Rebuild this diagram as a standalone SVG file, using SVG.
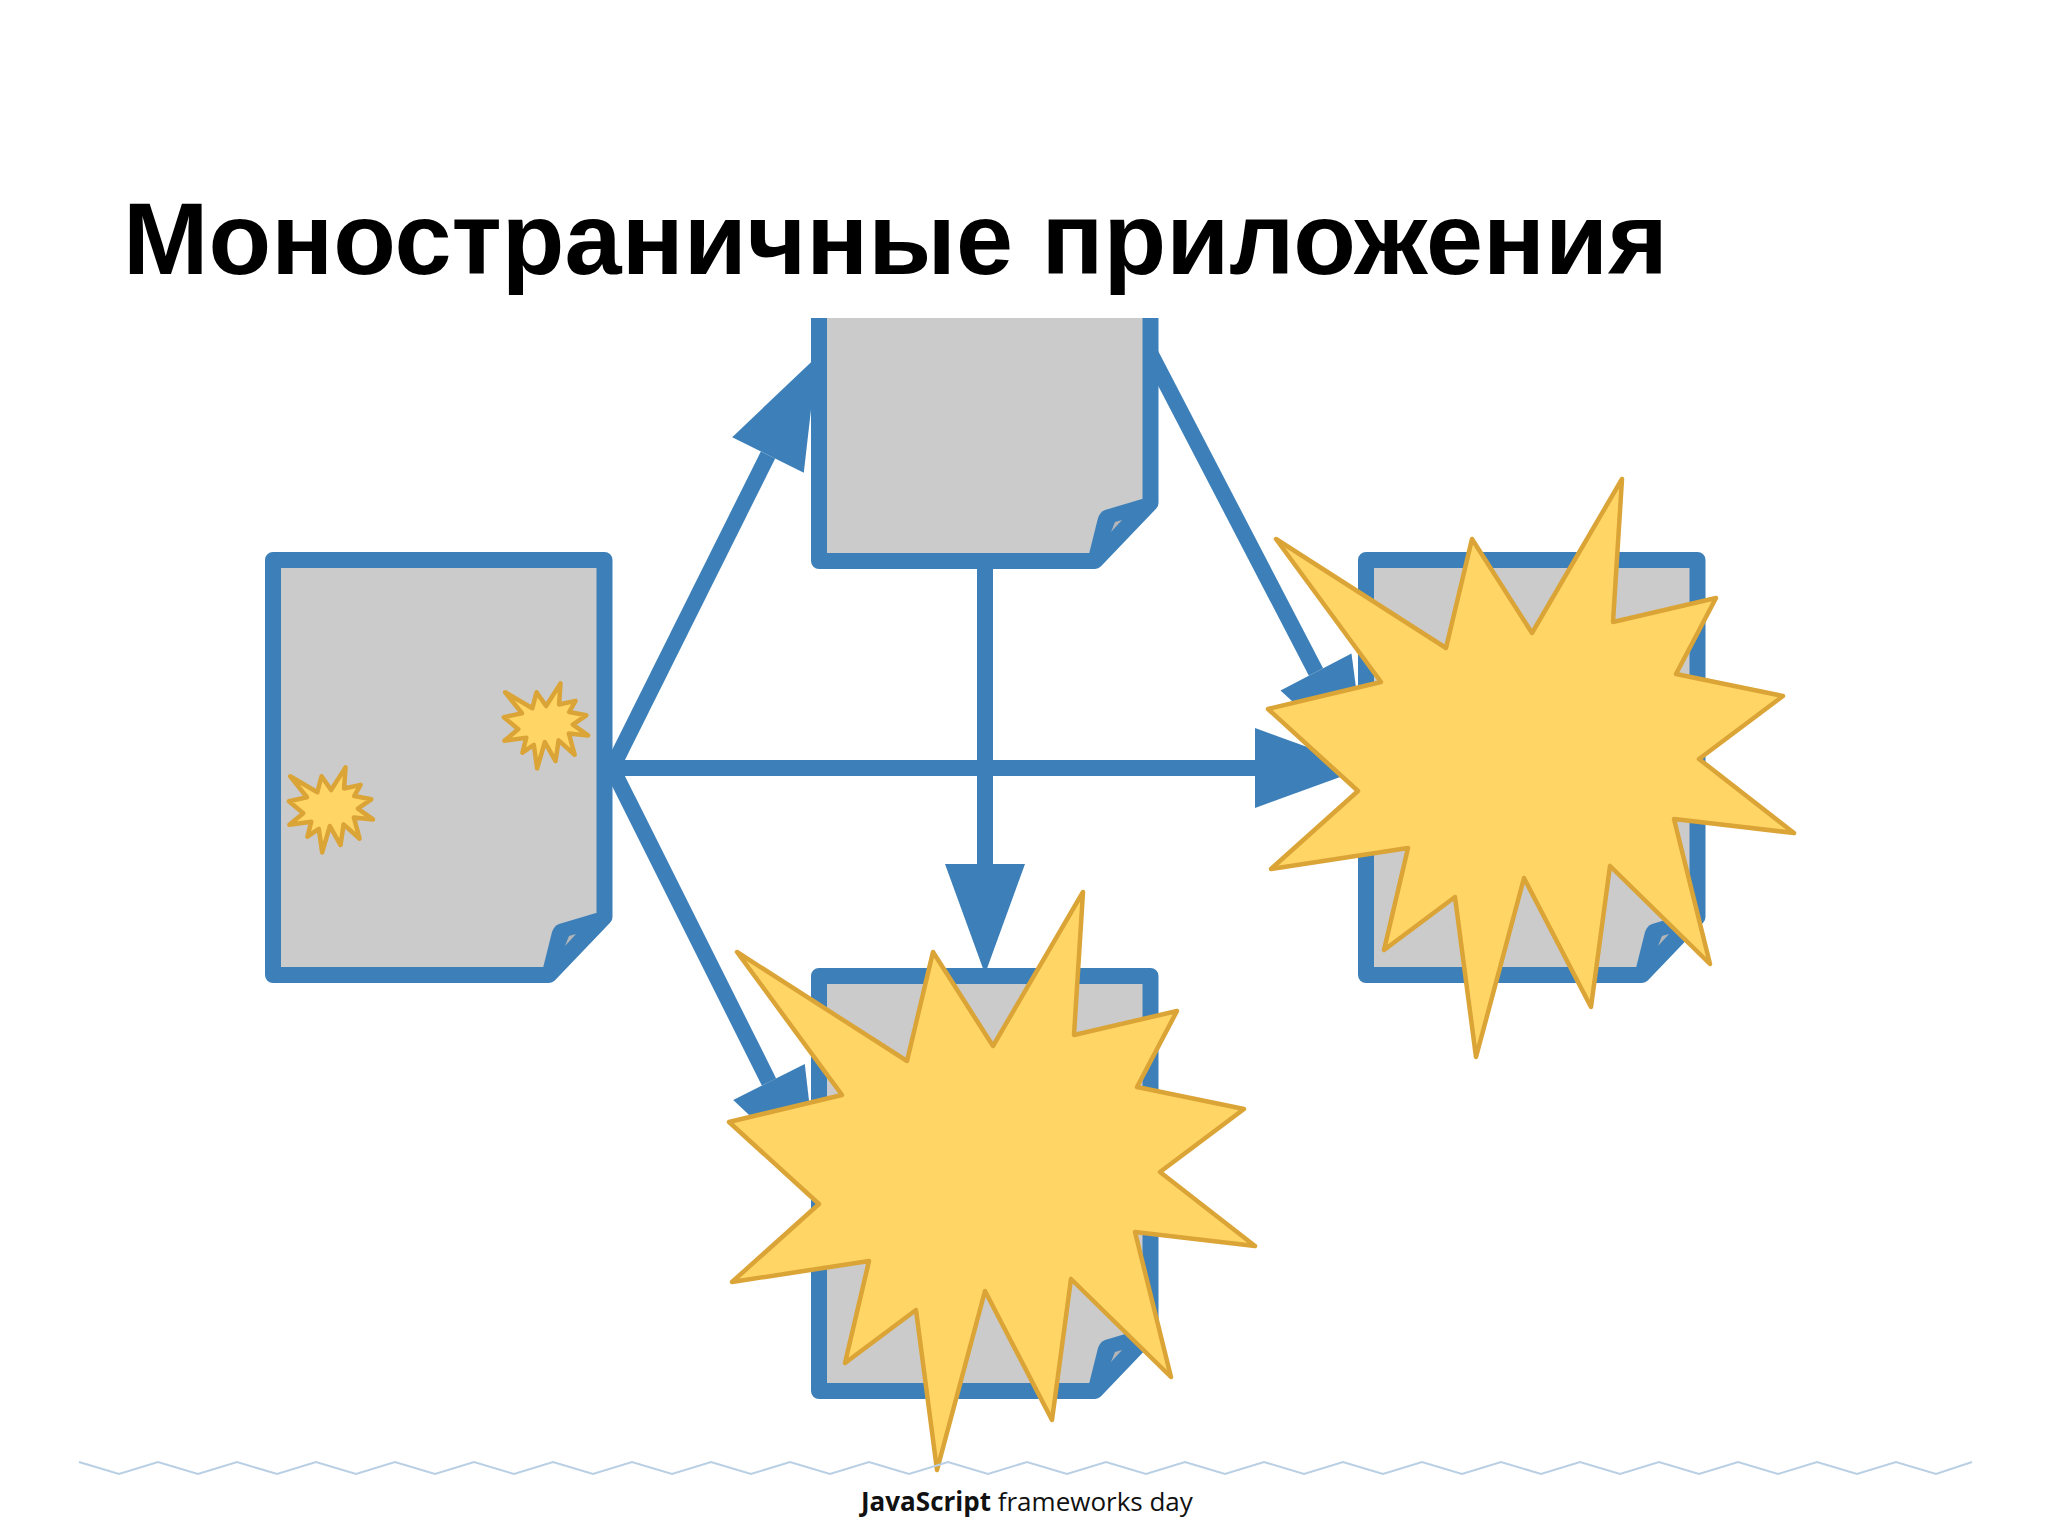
<svg xmlns="http://www.w3.org/2000/svg" xmlns:xlink="http://www.w3.org/1999/xlink" width="2048" height="1536" viewBox="0 0 2048 1536">
<style>
.line{stroke:#3d80b9;stroke-width:16;fill:none}
.star{fill:#ffd666;stroke:#dba436;stroke-width:4.500;stroke-linejoin:round;vector-effect:non-scaling-stroke}
.blue{fill:#3d80b9}
.sheet{fill:#cbcbcc;stroke:#3d80b9;stroke-width:16;stroke-linejoin:round}
</style>
<defs>
<marker id="head" markerUnits="userSpaceOnUse" markerWidth="110" markerHeight="80" refX="0" refY="40" orient="auto" overflow="visible"><path class="blue" d="M0 0L110 40L0 80Z"/></marker>
<clipPath id="clipTop"><rect x="0" y="318" width="2048" height="1218"/></clipPath>
<g id="page">
<polygon class="sheet" points="273,560 604.500,560 604.500,917 549,975 273,975"/>
<path class="blue" d="M543 968L552 932Q554 926 559 924L596 913L605 915L605 925L552 978Z"/>
<polygon fill="#b5b5b8" points="565,946 569,936 576,934"/>
</g>
<polygon id="burst" class="star" points="1276,539 1446,648 1472,539 1532,633 1622,479 1613,622 1716,598 1676,674 1783,696 1699,759 1794,833 1674,819 1710,964 1610,866 1591,1007 1524,878 1476,1057 1455,897 1384,950 1408,848 1271,869 1358,791 1268,709 1381,682"/>
</defs>
<rect width="2048" height="1536" fill="#ffffff"/>
<text x="123" y="274" font-family="'Liberation Sans',Arial,sans-serif" font-weight="700" font-size="102" fill="#000000" textLength="1545" lengthAdjust="spacingAndGlyphs">Моностр&#1072;ничные приложения</text>
<g id="connectors">
<line class="line" x1="612" y1="768" x2="768" y2="455" marker-end="url(#head)"/>
<line class="line" x1="612" y1="768" x2="1255" y2="768" marker-end="url(#head)"/>
<line class="line" x1="612" y1="768" x2="769" y2="1082" marker-end="url(#head)"/>
<line class="line" x1="985" y1="569" x2="985" y2="864" marker-end="url(#head)"/>
<line class="line" x1="1146" y1="345" x2="1316" y2="672" marker-end="url(#head)"/>
</g>
<g id="page-start"><use href="#page"/></g>
<g id="page-top" clip-path="url(#clipTop)"><use href="#page" transform="translate(546,-414)"/></g>
<g id="page-right"><use href="#page" transform="translate(1093,0)"/></g>
<g id="page-bottom"><use href="#page" transform="translate(546,416)"/></g>
<g id="burst-small-1"><use href="#burst" transform="translate(301,613) scale(.16,.147)"/></g>
<g id="burst-small-2"><use href="#burst" transform="translate(86,697) scale(.16,.147)"/></g>
<g id="burst-right"><use href="#burst"/></g>
<g id="burst-bottom"><use href="#burst" transform="translate(-539,413)"/></g>
<g id="footer">
<polyline fill="none" stroke="#b9cfe4" stroke-width="2" points="79,1462 119,1474 158,1462 198,1474 237,1462 277,1474 316,1462 356,1474 395,1462 435,1474 474,1462 514,1474 553,1462 593,1474 632,1462 672,1474 711,1462 751,1474 790,1462 830,1474 869,1462 909,1474 948,1462 988,1474 1027,1462 1067,1474 1106,1462 1146,1474 1185,1462 1225,1474 1264,1462 1304,1474 1343,1462 1383,1474 1422,1462 1462,1474 1501,1462 1541,1474 1580,1462 1620,1474 1659,1462 1699,1474 1738,1462 1778,1474 1817,1462 1857,1474 1896,1462 1936,1474 1972,1462"/>
<text x="861" y="1511" font-family="'Open Sans','Noto Sans',sans-serif" font-size="26" fill="#111111"><tspan font-weight="700">JavaScript</tspan> frameworks day</text>
</g>
</svg>
